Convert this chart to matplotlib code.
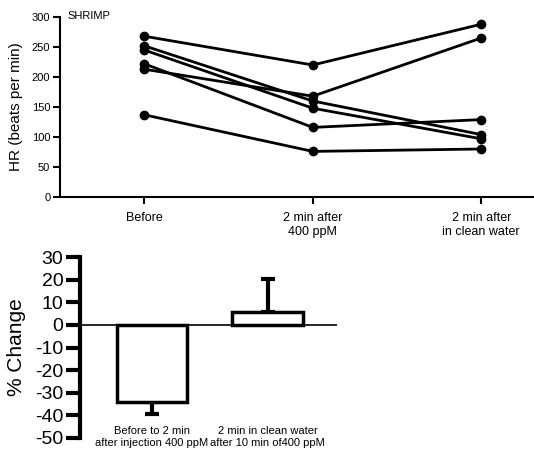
import numpy as np
import matplotlib
matplotlib.use("Agg")
import matplotlib.pyplot as plt

plt.rcParams["font.family"] = ["Liberation Sans", "DejaVu Sans"]
plt.rcParams["axes.unicode_minus"] = False

# --- datos panel superior: frecuencia cardiaca por camarón ---
condiciones = ["Before", "2 min after\n400 ppM", "2 min after\nin clean water"]
camaron_1 = [268, 220, 288]
camaron_2 = [213, 168, 265]
camaron_3 = [252, 160, 104]
camaron_4 = [245, 148, 97]
camaron_5 = [222, 116, 129]
camaron_6 = [137, 76, 80]
hr_ticks = [0, 50, 100, 150, 200, 250, 300]

# --- datos panel inferior: % de cambio ---
etiquetas_cambio = ["Before to 2 min\nafter injection 400 ppM",
                    "2 min in clean water\nafter 10 min of400 ppM"]
cambio_medio = [-34.3, 5.9]
cambio_err_abajo = [5.2, 0.0]
cambio_err_arriba = [0.0, 14.5]
cambio_ticks = [30, 20, 10, 0, -10, -20, -30, -40, -50]

W, H = 534, 449
fig = plt.figure(figsize=(W / 100, H / 100), dpi=100)

# %% panel superior
ax1 = fig.add_axes([60 / W, 1 - 197 / H, 474 / W, 180 / H])
xs = np.arange(len(condiciones))
for serie in [camaron_1, camaron_2, camaron_3, camaron_4, camaron_5, camaron_6]:
    ax1.plot(xs, serie, color="black", lw=2, marker="o", ms=6, clip_on=False)

ax1.set_xlim(-0.5, 2.313)
ax1.set_ylim(0, 300)
ax1.set_yticks(hr_ticks)
ax1.set_xticks(xs)
ax1.set_xticklabels(condiciones, fontsize=9)
ax1.tick_params(axis="y", labelsize=8, length=5, width=1.5, pad=2)
ax1.tick_params(axis="x", length=5, width=1.5, pad=6)
ax1.spines[["top", "right"]].set_visible(False)
ax1.spines[["left", "bottom"]].set_linewidth(1.5)
ax1.set_ylabel("HR (beats per min)", fontsize=11)
ax1.yaxis.set_label_coords(-0.078, 0.5)
ax1.text(67 / W, 1 - 11 / H, "SHRIMP", transform=fig.transFigure,
         fontsize=8, ha="left", va="top")

# %% panel inferior
ax2 = fig.add_axes([80 / W, 11.3 / H, 257 / W, 180.4 / H])
xb = np.arange(len(cambio_medio))
ax2.axhline(0, color="black", lw=1.2, zorder=1)
ax2.bar(xb, cambio_medio, width=0.606, facecolor="white",
        edgecolor="black", linewidth=2.5, zorder=2)
ax2.errorbar(xb, cambio_medio, yerr=[cambio_err_abajo, cambio_err_arriba],
             fmt="none", ecolor="black", elinewidth=3, capsize=5,
             capthick=3, zorder=1)

ax2.set_xlim(-0.62, 1.60)
ax2.set_ylim(-50, 30)
ax2.set_yticks(cambio_ticks)
ax2.set_xticks([])
ax2.tick_params(axis="y", labelsize=14, length=10, width=3, pad=2)
ax2.spines[["top", "right", "bottom"]].set_visible(False)
ax2.spines["left"].set_linewidth(3)
ax2.set_ylabel("% Change", fontsize=15)
ax2.yaxis.set_label_coords(-0.21, 0.5)

for x, etiqueta in zip(xb, etiquetas_cambio):
    ax2.text(x, -45.0, etiqueta, ha="center", va="top", fontsize=8,
             linespacing=1.15, clip_on=False)

fig.savefig("out.png", dpi=100, facecolor="white")
